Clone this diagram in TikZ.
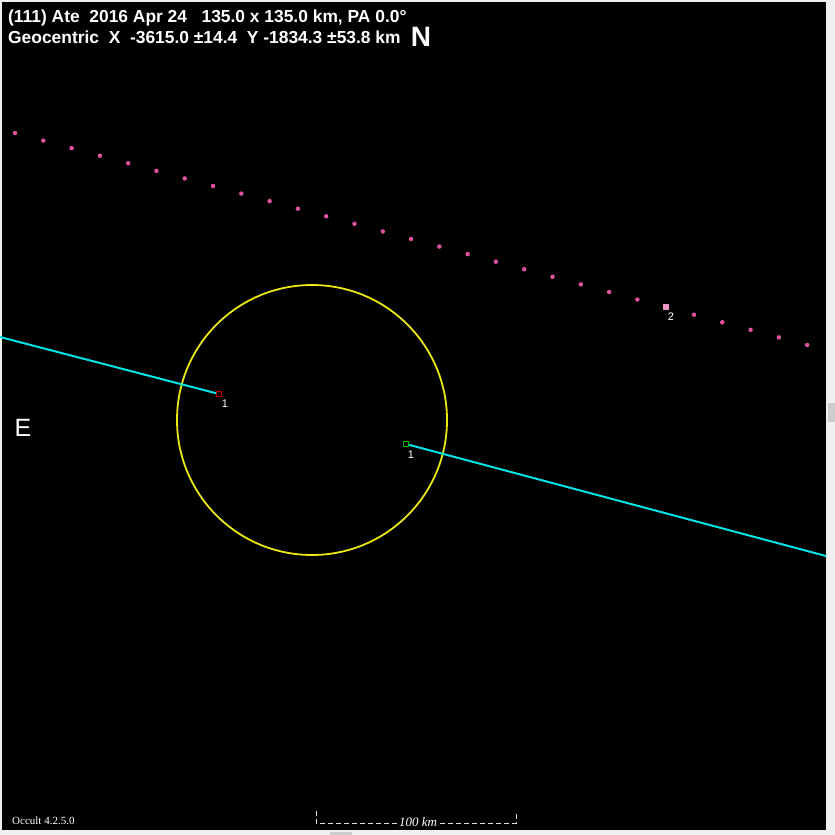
\documentclass[tikz,border=0pt]{standalone}
\usepackage{fontspec}
\setmainfont{Liberation Sans}
\newfontfamily\occfont{Liberation Serif}

\definecolor{dotpink}{RGB}{222,82,160}
\definecolor{chordcyan}{RGB}{0,228,232}
\definecolor{limbyellow}{RGB}{232,232,20}
\definecolor{panelgrey}{RGB}{240,240,240}
\definecolor{thumbgrey}{RGB}{205,205,205}
\definecolor{barwhite}{RGB}{225,225,225}

\tikzset{
  occdot/.style={circle, fill=dotpink, inner sep=0pt, minimum size=4.5pt},
  obsbox/.style={rectangle, draw, inner sep=0pt, minimum size=5pt, line width=1.2pt},
  chordline/.style={line width=2pt, color=chordcyan},
  idlabel/.style={text=white, font=\fontsize{11}{11}\selectfont, inner sep=0pt},
  headtext/.style={text=white, anchor=base west, inner sep=0pt,
    font=\fontsize{17.4}{17.4}\selectfont\bfseries}
}

\begin{document}
\begin{tikzpicture}[x=1pt, y=-1pt]
    \useasboundingbox (0,0) rectangle (835,835);
    \fill[panelgrey] (0,0) rectangle (835,835);
    \fill[black] (2,2) rectangle (826,830);
    % scrollbar thumbs
    \fill[thumbgrey] (828,403) rectangle (835,422);
    \fill[thumbgrey] (330,832) rectangle (352,835);

    % header
    \node[headtext] (title1) at (8,23) {(111) Ate\ \ 2016 Apr 24\ \ \ 135.0 x 135.0 km, PA 0.0°};
    \node[headtext] (title2) at (8,43) {Geocentric\ \ X\ \ -3615.0 ±14.4\ \ Y -1834.3 ±53.8 km};
    \node[text=white, inner sep=0pt, font=\fontsize{28}{28}\selectfont\bfseries] (north) at (421,37) {N};
    \node[text=white, inner sep=0pt, font=\fontsize{25}{25}\selectfont] (east) at (23,428) {E};

    % path of the asteroid (dots)
    \foreach \i in {0,...,22,24,25,26,27,28} {
        \node[occdot] (dot\i) at ({15+28.29*\i},{133+7.57*\i}) {};
    }
    \node[rectangle, fill=dotpink!60!white, inner sep=0pt, minimum size=5.5pt] (dot23) at (666,307) {};
    \node[idlabel] (lab2) at (671,317) {2};

    % limb
    \draw[limbyellow, line width=1.8pt] (312,420) circle (135);

    % chords
    \coordinate (westend) at (0,337);
    \coordinate (eastend) at (826,556);
    \node[obsbox, draw=red!80!black] (dis1) at (219,394) {};
    \node[obsbox, draw=green!70!black] (rea1) at (406,444) {};
    \draw[chordline] (westend) -- (dis1);
    \draw[chordline] (rea1) -- (eastend);
    \node[idlabel] (lab1a) at (225,404) {1};
    \node[idlabel] (lab1b) at (411,455) {1};

    % scale bar
    \draw[barwhite, line width=1pt, dash pattern=on 5pt off 3pt] (316,811) -- (316,823) -- (516,823) -- (516,811);
    \node[fill=black, text=white, inner sep=1pt, font=\occfont\itshape\fontsize{13}{13}\selectfont] (scale) at (418,822) {100 km};

    \node[text=white, anchor=base west, inner sep=0pt, font=\occfont\fontsize{11}{11}\selectfont] (version) at (12,824) {Occult 4.2.5.0};
  \end{tikzpicture}
\end{document}
